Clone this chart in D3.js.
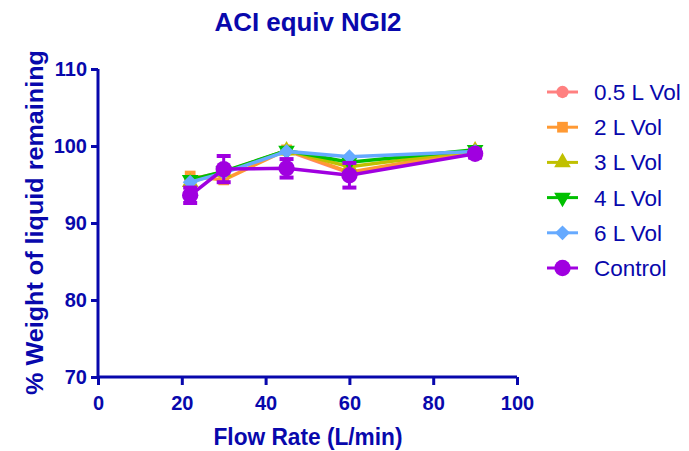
<!DOCTYPE html>
<html><head><meta charset="utf-8">
<script src="https://cdn.jsdelivr.net/npm/d3@7"></script>
<style>body{margin:0;background:#fff}svg{display:block}text{font-family:"Liberation Sans",Arial,sans-serif}</style>
</head><body>
<svg id="c" width="689" height="451"></svg>
<script>
const flowRates = [22, 30, 45, 60, 90];
const seriesNames = ["0.5 L Vol", "2 L Vol", "3 L Vol", "4 L Vol", "6 L Vol", "Control"];
const vol05 = [95.7, 96.6, 99.4, 96.5, 99.4];
const vol2 = [96.1, 95.6, 99.5, 96.6, 99.4];
const vol3 = [95.3, 96.6, 99.4, 97.3, 99.4];
const vol4 = [95.6, 96.7, 99.4, 97.9, 99.5];
const vol6 = [95.3, 96.5, 99.3, 98.6, 99.3];
const control = [93.6, 97.0, 97.1, 96.2, 99.0];
const controlErr = [1.0, 1.7, 1.2, 1.6, 0.5];
const xTicks = [0, 20, 40, 60, 80, 100];
const yTicks = [70, 80, 90, 100, 110];
const colors = ["#ff8080", "#ff9933", "#c0c000", "#00c000", "#66aaff", "#a000e0"];
const symbols = [d3.symbolCircle, d3.symbolSquare, d3.symbolTriangle, "down", "diamond", d3.symbolCircle];
const allSeries = [vol05, vol2, vol3, vol4, vol6, control];

const axisColor = "#0808ac";
const svg = d3.select("#c");
const x = d3.scaleLinear().domain([0, 100]).range([98, 517]);
const y = d3.scaleLinear().domain([70, 110]).range([377, 69]);

svg.append("text").attr("x", 308).attr("y", 31).attr("text-anchor", "middle")
  .attr("font-size", 25).attr("font-weight", "bold").attr("fill", axisColor)
  .attr("textLength", 187).attr("lengthAdjust", "spacingAndGlyphs").text("ACI equiv NGI2");

const gx = svg.append("g").attr("transform", "translate(0,377)")
  .call(d3.axisBottom(x).tickValues(xTicks).tickSize(8).tickPadding(5));
const gy = svg.append("g").attr("transform", "translate(98,0)")
  .call(d3.axisLeft(y).tickValues(yTicks).tickSize(7).tickPadding(4));
[gx, gy].forEach(g => {
  g.select(".domain").attr("stroke", axisColor).attr("stroke-width", 3);
  g.selectAll(".tick line").attr("stroke", axisColor).attr("stroke-width", 3);
  g.selectAll(".tick text").attr("fill", axisColor).attr("font-size", 20).attr("font-weight", "bold")
    .attr("font-family", "Liberation Sans, Arial, sans-serif");
});
gx.select(".domain").attr("d", "M98,0H517");
gy.select(".domain").attr("d", "M0,377V69");
gx.selectAll(".tick text").attr("dy", null).attr("y", 33);

svg.append("text").attr("x", 308).attr("y", 445).attr("text-anchor", "middle")
  .attr("font-size", 23).attr("font-weight", "bold").attr("fill", axisColor)
  .attr("textLength", 189).attr("lengthAdjust", "spacingAndGlyphs").text("Flow Rate (L/min)");
svg.append("text").attr("transform", "translate(43,222.5) rotate(-90)").attr("text-anchor", "middle")
  .attr("font-size", 23).attr("font-weight", "bold").attr("fill", axisColor)
  .attr("textLength", 345).attr("lengthAdjust", "spacingAndGlyphs").text("% Weight of liquid remaining");

function sym(i, size) {
  if (symbols[i] === "down") return { d: d3.symbol(d3.symbolTriangle, size)(), rot: 180 };
  if (symbols[i] === "diamond") return { d: d3.symbol(d3.symbolSquare, size)(), rot: 45 };
  return { d: d3.symbol(symbols[i], size)(), rot: 0 };
}
const sizes = [120, 115, 120, 120, 110, 210];

const line = d3.line().x((d, i) => x(flowRates[i])).y(d => y(d));
allSeries.forEach((vals, si) => {
  const g = svg.append("g");
  g.append("path").attr("d", line(vals)).attr("fill", "none").attr("stroke", colors[si]).attr("stroke-width", 3.5);
  if (si === 5) {
    vals.forEach((v, i) => {
      const cx = x(flowRates[i]);
      const e = controlErr[i];
      g.append("line").attr("x1", cx).attr("x2", cx).attr("y1", y(v - e)).attr("y2", y(v + e))
        .attr("stroke", colors[si]).attr("stroke-width", 3);
      [v - e, v + e].forEach(t => g.append("line").attr("x1", cx - 7).attr("x2", cx + 7)
        .attr("y1", y(t)).attr("y2", y(t)).attr("stroke", colors[si]).attr("stroke-width", 4));
    });
  }
  vals.forEach((v, i) => {
    const s = sym(si, sizes[si]);
    g.append("path").attr("d", s.d).attr("fill", colors[si])
      .attr("transform", `translate(${x(flowRates[i])},${y(v)}) rotate(${s.rot})`);
  });
});

// legend
seriesNames.forEach((name, i) => {
  const ly = 92 + i * 35.2;
  const g = svg.append("g");
  g.append("line").attr("x1", 547).attr("x2", 578).attr("y1", ly).attr("y2", ly)
    .attr("stroke", colors[i]).attr("stroke-width", 3);
  const s = sym(i, sizes[i]);
  g.append("path").attr("d", s.d).attr("fill", colors[i])
    .attr("transform", `translate(562.5,${ly}) rotate(${s.rot})`);
  g.append("text").attr("x", 594).attr("y", ly + 8).attr("font-size", 22.5).attr("fill", axisColor).text(name);
});
</script>
</body></html>
